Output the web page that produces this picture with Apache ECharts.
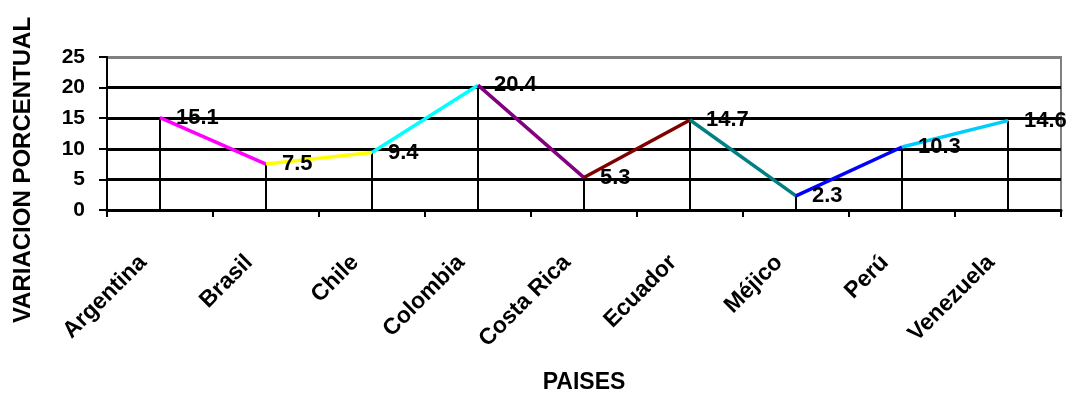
<!DOCTYPE html>
<html>
<head>
<meta charset="utf-8">
<script src="https://cdn.jsdelivr.net/npm/echarts@6/dist/echarts.min.js"></script>
<style>
	html, body { margin: 0; padding: 0; background: #fff; }
	#chart { width: 1075px; height: 394px; }
</style>
</head>
<body>
<div id="chart"></div>
<script>
const paises = ['Argentina', 'Brasil', 'Chile', 'Colombia', 'Costa Rica', 'Ecuador', 'Méjico', 'Perú', 'Venezuela']
const variacion = [15.1, 7.5, 9.4, 20.4, 5.3, 14.7, 2.3, 10.3, 14.6]
// color of each segment, from point i to point i+1
const segmentColors = ['#ff00ff', '#ffff00', '#00ffff', '#800080', '#800000', '#008080', '#0000ff', '#00ccff']
const yTicks = [0, 5, 10, 15, 20, 25]

const FONT = 'Liberation Sans, Arial, sans-serif'

const chart = echarts.init(document.getElementById('chart'))

// one small line series per coloured segment
const segments = segmentColors.map((color, i) => ({
	type: 'line',
	z: 3,
	symbol: 'none',
	lineStyle: { color: color, width: 3.5 },
	data: variacion.map((v, j) => (j === i || j === i + 1) ? v : null)
}))

chart.setOption({
	animation: false,
	grid: {
		left: 107,
		right: 14,
		top: 57,
		bottom: 184,
		outerBoundsMode: 'none',
		containLabel: false,
		show: true,
		borderColor: '#808080',
		borderWidth: 2
	},
	xAxis: {
		type: 'category',
		data: paises,
		boundaryGap: true,
		axisLine: { lineStyle: { color: '#000', width: 3 } },
		axisTick: { show: true, length: 7, interval: 0, lineStyle: { color: '#000', width: 2 } },
		axisLabel: {
			interval: 0,
			rotate: 45,
			margin: 32,
			padding: [0, 24, 0, 0],
			fontFamily: FONT,
			fontWeight: 'bold',
			fontSize: 23,
			color: '#000'
		},
		splitLine: { show: false }
	},
	yAxis: {
		type: 'value',
		min: yTicks[0],
		max: yTicks[yTicks.length - 1],
		interval: 5,
		axisLine: { show: true, lineStyle: { color: '#000', width: 2 } },
		axisTick: { show: true, length: 8, lineStyle: { color: '#000', width: 2 } },
		axisLabel: { margin: 22, fontFamily: FONT, fontWeight: 'bold', fontSize: 21, color: '#000' },
		splitLine: {
			show: true,
			lineStyle: { color: ['#000', '#000', '#000', '#000', '#000', '#808080'], width: 3 }
		}
	},
	graphic: [{
		type: 'text',
		x: 23,
		y: 170,
		rotation: Math.PI / 2,
		style: {
			text: 'VARIACION PORCENTUAL',
			fontFamily: FONT,
			fontWeight: 'bold',
			fontSize: 24,
			fill: '#000',
			align: 'center',
			verticalAlign: 'middle'
		}
	}, {
		type: 'text',
		x: 584,
		y: 383,
		style: {
			text: 'PAISES',
			fontFamily: FONT,
			fontWeight: 'bold',
			fontSize: 23,
			fill: '#000',
			align: 'center',
			verticalAlign: 'middle'
		}
	}],
	series: [
		{
			// drop lines from each point down to the axis
			type: 'bar',
			z: 1,
			barWidth: 2,
			itemStyle: { color: '#000' },
			data: variacion
		},
		...segments,
		{
			type: 'scatter',
			z: 4,
			symbolSize: 0,
			itemStyle: { color: '#000' },
			label: {
				show: true,
				position: 'right',
				distance: 16,
				fontFamily: FONT,
				fontWeight: 'bold',
				fontSize: 22,
				color: '#000',
				opacity: 1
			},
			data: variacion
		}
	]
})
</script>
</body>
</html>
